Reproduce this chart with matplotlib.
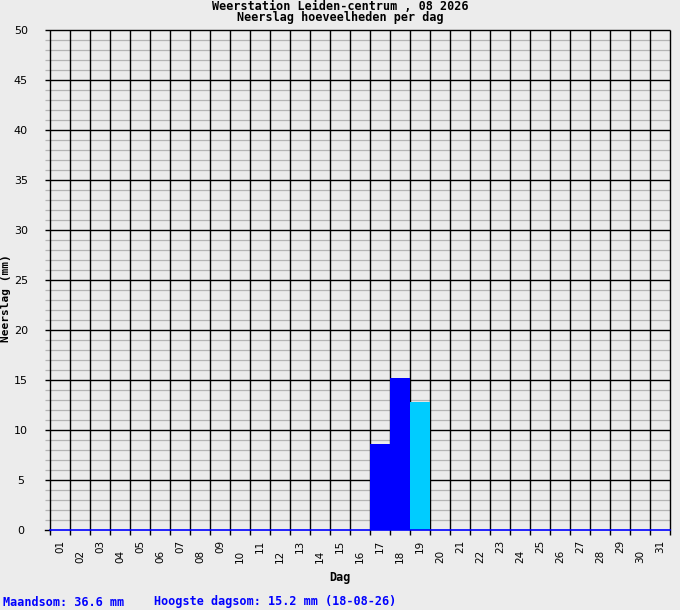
import numpy as np
import matplotlib
matplotlib.use("Agg")
import matplotlib.pyplot as plt

# daily precipitation, August 2026 (mm)
days = list(range(1, 32))
day_labels = [f"{d:02d}" for d in days]
neerslag = [0.0] * 16 + [8.6, 15.2, 12.8] + [0.0] * 12
vandaag = 19  # last (incomplete) day drawn in light blue

maandsom = 36.6
hoogste = 15.2
hoogste_datum = "18-08-26"

BG = "#ececec"
BLUE = "#0000ff"
CYAN = "#00ccff"
MONO = "DejaVu Sans Mono"

W, H = 680, 610
fig = plt.figure(figsize=(W / 100, H / 100), dpi=100, facecolor=BG)
ax = fig.add_axes([50 / W, (H - 530) / H, 620 / W, 500 / H], facecolor=BG)

ax.set_xlim(0.5, 31.5)
ax.set_ylim(0, 50)
for s in ax.spines.values():
    s.set_visible(False)

# horizontal grid: grey every mm, black every 5 mm; stubs out to the left
stub_x = 0.5 - 0.25
for v in range(1, 51):
    col = "black" if v % 5 == 0 else "#b4b4b4"
    ax.plot([stub_x, 31.5], [v, v], color=col, lw=1.0 if v % 5 == 0 else 0.9,
            clip_on=False, zorder=1, solid_capstyle="butt")
ax.plot([stub_x, 0.5], [0, 0], color="black", lw=1.0, clip_on=False, zorder=1)

# vertical lines on day boundaries, with stubs below the axis
for b in np.arange(0.5, 32.0, 1.0):
    ax.plot([b, b], [-0.5, 50], color="black", lw=1.0, clip_on=False,
            zorder=1, solid_capstyle="butt")

colors = [CYAN if d == vandaag else BLUE for d in days]
ax.bar(days, neerslag, width=1.0, color=colors, linewidth=0, zorder=2)

# blue baseline
ax.plot([0.5, 31.5], [0, 0], color=BLUE, lw=1.2, clip_on=False, zorder=3)

# y ticks
ax.set_yticks(range(0, 51, 5))
ax.set_yticklabels([str(v) for v in range(0, 51, 5)], fontsize=8,
                   fontfamily="DejaVu Sans", ha="center")
ax.tick_params(axis="y", length=0, pad=21)

# x ticks, staggered: odd days high, even days low
ax.set_xticks(days[0::2])
ax.set_xticklabels(day_labels[0::2], rotation=90, fontsize=7.5)
ax.set_xticks(days[1::2], minor=True)
ax.set_xticklabels(day_labels[1::2], minor=True, rotation=90, fontsize=7.5)
ax.tick_params(axis="x", which="major", length=0, pad=7)
ax.tick_params(axis="x", which="minor", length=0, pad=14.5)

fig.text(340 / W, 1 - 12 / H,
         "Weerstation Leiden-centrum , 08 2026\nNeerslag hoeveelheden per dag",
         ha="center", va="center", fontsize=8.5, fontweight="bold",
         family=MONO, linespacing=0.85)
fig.text(6 / W, 1 - 298 / H, "Neerslag (mm)", rotation=90, ha="center",
         va="center", fontsize=8, fontweight="bold", family=MONO)
fig.text(340 / W, 1 - 577 / H, "Dag", ha="center", va="center",
         fontsize=8.5, fontweight="bold", family=MONO)
fig.text(3 / W, 1 - 602 / H, f"Maandsom: {maandsom:.1f} mm", ha="left",
         va="center", fontsize=8.5, fontweight="bold", family=MONO, color=BLUE)
fig.text(154 / W, 1 - 602 / H,
         f"Hoogste dagsom: {hoogste:.1f} mm ({hoogste_datum})", ha="left",
         va="center", fontsize=8.5, fontweight="bold", family=MONO, color=BLUE)

fig.savefig("out.png", dpi=100, facecolor=BG)
